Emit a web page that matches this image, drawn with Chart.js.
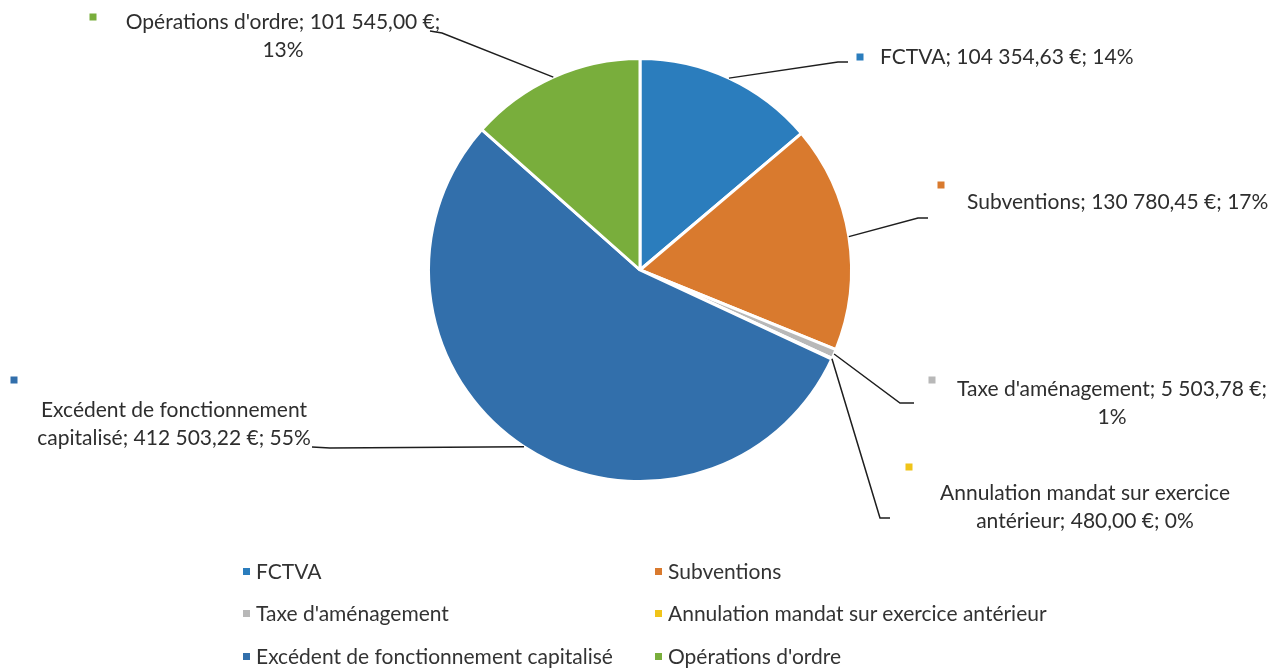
<!DOCTYPE html>
<html>
<head>
<meta charset="utf-8">
<script src="https://cdn.jsdelivr.net/npm/chart.js@4.4.1/dist/chart.umd.min.js"></script>
<style>
  body { margin: 0; background: #fff; }
  #wrap { position: relative; width: 1284px; height: 668px; overflow: hidden; }
  #legend { position: absolute; left: 0; top: 0; font-family: Lato, sans-serif; font-size: 21px; color: #333; }
  .lg { position: absolute; white-space: nowrap; line-height: 22px; }
  .lg i { position: absolute; left: -13px; top: 8px; width: 7px; height: 7px; }
</style>
</head>
<body>
<div id="wrap">
  <canvas id="pie" width="1284" height="668"></canvas>
  <div id="legend"></div>
</div>
<script>
// data
var categories = ["FCTVA", "Subventions", "Taxe d'aménagement", "Annulation mandat sur exercice antérieur", "Excédent de fonctionnement capitalisé", "Opérations d'ordre"];
var amounts = [104354.63, 130780.45, 5503.78, 480.00, 412503.22, 101545.00];
var percents = [14, 17, 1, 0, 55, 13];
var colors = ["#2b7dbd", "#d97a2e", "#b8b8b8", "#f0c419", "#326fab", "#79ae3c"];

// label placement (elbow of leader, end of leader, marker, text anchor)
var labelLayout = [
  { elbow: [838, 62], end: [848, 62], marker: [860, 57], x: 880, y: 57, align: "left", maxW: 500 },
  { elbow: [918, 218], end: [928, 218], marker: [941, 185], x: 967, y: 202, align: "left", maxW: 500 },
  { elbow: [900, 403], end: [914, 403], marker: [932, 380], x: 1112, y: 389, align: "center", maxW: 322 },
  { elbow: [880, 518], end: [890, 518], marker: [909, 467], x: 1085, y: 493, align: "center", maxW: 305 },
  { elbow: [330, 448], end: [312, 447], marker: [14, 380], x: 174, y: 410, align: "center", maxW: 290 },
  { elbow: [442, 33], end: [430, 31], marker: [93, 17], x: 283, y: 22, align: "center", maxW: 326 }
];
var legendPos = [[256, 571], [668, 571], [256, 613], [668, 613], [256, 656], [668, 656]];

function fmtEuro(v) {
  var parts = v.toFixed(2).split(".");
  var ip = parts[0].replace(/\B(?=(\d{3})+(?!\d))/g, " ");
  return ip + "," + parts[1] + " €";
}

function wrapText(ctx, text, maxW) {
  var words = text.split(" ");
  var lines = [], cur = "";
  for (var i = 0; i < words.length; i++) {
    var test = cur ? cur + " " + words[i] : words[i];
    if (cur && ctx.measureText(test).width > maxW) { lines.push(cur); cur = words[i]; }
    else cur = test;
  }
  if (cur) lines.push(cur);
  return lines;
}

var leaderLabels = {
  id: "leaderLabels",
  afterDraw: function (chart) {
    var ctx = chart.ctx;
    var meta = chart.getDatasetMeta(0);
    ctx.save();
    ctx.font = "21px Lato, sans-serif";
    ctx.textBaseline = "middle";
    meta.data.forEach(function (arc, i) {
      var L = labelLayout[i];
      var p = arc.getProps(["x", "y", "startAngle", "endAngle", "outerRadius"], true);
      var mid = (p.startAngle + p.endAngle) / 2;
      var sx = p.x + Math.cos(mid) * p.outerRadius;
      var sy = p.y + Math.sin(mid) * p.outerRadius;
      ctx.strokeStyle = "#1e1e1e";
      ctx.lineWidth = 1.5;
      ctx.beginPath();
      ctx.moveTo(sx, sy);
      ctx.lineTo(L.elbow[0], L.elbow[1]);
      ctx.lineTo(L.end[0], L.end[1]);
      ctx.stroke();
      ctx.fillStyle = colors[i];
      ctx.fillRect(L.marker[0] - 3.5, L.marker[1] - 3.5, 7, 7);
      var text = categories[i] + "; " + fmtEuro(amounts[i]) + "; " + percents[i] + "%";
      var lines = wrapText(ctx, text, L.maxW);
      ctx.fillStyle = "#2e2e2e";
      ctx.textAlign = L.align;
      lines.forEach(function (ln, k) { ctx.fillText(ln, L.x, L.y + k * 28); });
    });
    ctx.restore();
  }
};

new Chart(document.getElementById("pie").getContext("2d"), {
  type: "pie",
  data: {
    labels: categories,
    datasets: [{ data: amounts, backgroundColor: colors, borderColor: "#ffffff", borderWidth: 3 }]
  },
  options: {
    responsive: false,
    animation: false,
    layout: { padding: { top: 57, bottom: 185, left: 100, right: 104 } },
    plugins: { legend: { display: false }, tooltip: { enabled: false } }
  },
  plugins: [leaderLabels]
});

var legendEl = document.getElementById("legend");
categories.forEach(function (c, i) {
  var d = document.createElement("div");
  d.className = "lg";
  d.style.left = legendPos[i][0] + "px";
  d.style.top = (legendPos[i][1] - 11) + "px";
  d.innerHTML = '<i style="background:' + colors[i] + '"></i>' + c;
  legendEl.appendChild(d);
});
</script>
</body>
</html>
